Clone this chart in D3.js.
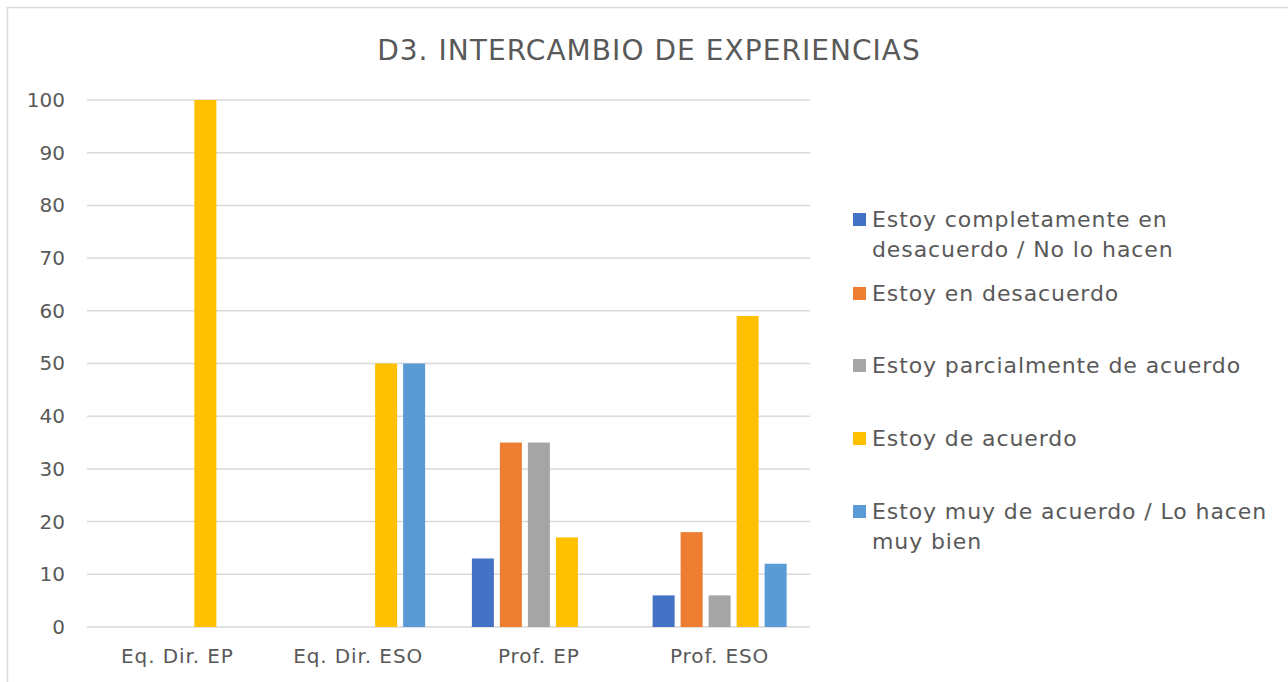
<!DOCTYPE html>
<html>
<head>
<meta charset="utf-8">
<script src="https://cdn.jsdelivr.net/npm/d3@7"></script>
<style>
	body { margin: 0; background: #fff; }
	svg { display: block; font-family: "DejaVu Sans", sans-serif; }
</style>
</head>
<body>
<svg id="chart" width="1288" height="682"></svg>
<script>
var categories = ["Eq. Dir. EP", "Eq. Dir. ESO", "Prof. EP", "Prof. ESO"];
var seriesNames = [
	"Estoy completamente en desacuerdo / No lo hacen",
	"Estoy en desacuerdo",
	"Estoy parcialmente de acuerdo",
	"Estoy de acuerdo",
	"Estoy muy de acuerdo / Lo hacen muy bien"
];
// one array per series, in category order
var completamenteDesacuerdo = [0, 0, 13, 6];
var enDesacuerdo = [0, 0, 35, 18];
var parcialmente = [0, 0, 35, 6];
var deAcuerdo = [100, 50, 17, 59];
var muyDeAcuerdo = [0, 50, 0, 12];
var yTicks = [0, 10, 20, 30, 40, 50, 60, 70, 80, 90, 100];
var colors = ["#4472C4", "#ED7D31", "#A5A5A5", "#FFC000", "#5B9BD5"];
// legend labels wrapped the way they appear
var legendLines = [
	["Estoy completamente en", "desacuerdo / No lo hacen"],
	["Estoy en desacuerdo"],
	["Estoy parcialmente de acuerdo"],
	["Estoy de acuerdo"],
	["Estoy muy de acuerdo / Lo hacen", "muy bien"]
];

var values = [completamenteDesacuerdo, enDesacuerdo, parcialmente, deAcuerdo, muyDeAcuerdo];

var svg = d3.select("#chart");
var textColor = "#595959";

// chart border (only top and left visible)
svg.append("rect")
	.attr("x", 7.5).attr("y", 7.5)
	.attr("width", 1300).attr("height", 700)
	.attr("fill", "none")
	.attr("stroke", "#D9D9D9")
	.attr("stroke-width", 1.5);

svg.append("text")
	.attr("x", 649).attr("y", 60)
	.attr("text-anchor", "middle")
	.attr("fill", textColor)
	.attr("font-size", 28)
	.attr("letter-spacing", 1.05)
	.text("D3. INTERCAMBIO DE EXPERIENCIAS");

var x0 = d3.scaleBand()
	.domain(categories)
	.range([87, 810])
	.padding(0);

var x1 = d3.scaleBand()
	.domain(d3.range(seriesNames.length))
	.range([0, x0.bandwidth()])
	.paddingInner(0.214)
	.paddingOuter(0.835);

var y = d3.scaleLinear()
	.domain([0, 100])
	.range([627, 100]);

// gridlines
svg.append("g")
	.selectAll("line")
	.data(yTicks)
	.enter().append("line")
	.attr("x1", 87).attr("x2", 810)
	.attr("y1", function(d) { return y(d); })
	.attr("y2", function(d) { return y(d); })
	.attr("stroke", "#D9D9D9")
	.attr("stroke-width", 1.5);

// y axis labels
var yAxis = svg.append("g")
	.attr("transform", "translate(65,0)")
	.call(d3.axisLeft(y).tickValues(yTicks).tickSize(0).tickPadding(0));
yAxis.select(".domain").remove();
yAxis.selectAll("text")
	.attr("fill", textColor)
	.attr("font-size", 20)
	.attr("font-family", "DejaVu Sans, sans-serif");

// x axis labels
var xAxis = svg.append("g")
	.attr("transform", "translate(0,627)")
	.call(d3.axisBottom(x0).tickSize(0).tickPadding(22));
xAxis.select(".domain").remove();
xAxis.selectAll("text")
	.attr("fill", textColor)
	.attr("font-size", 20)
	.attr("letter-spacing", 0.9)
	.attr("font-family", "DejaVu Sans, sans-serif");

// bars
var groups = svg.append("g")
	.selectAll("g")
	.data(categories)
	.enter().append("g")
	.attr("transform", function(d) { return "translate(" + x0(d) + ",0)"; });

groups.selectAll("rect")
	.data(function(d, ci) {
		return values.map(function(s, si) { return { series: si, value: s[ci] }; });
	})
	.enter().append("rect")
	.filter(function(d) { return d.value > 0; })
	.attr("x", function(d) { return x1(d.series); })
	.attr("width", x1.bandwidth())
	.attr("y", function(d) { return y(d.value); })
	.attr("height", function(d) { return y(0) - y(d.value); })
	.attr("fill", function(d) { return colors[d.series]; });

// legend
var legendY = [213, 287, 359, 432, 505];
var legend = svg.append("g")
	.selectAll("g")
	.data(seriesNames)
	.enter().append("g")
	.attr("transform", function(d, i) { return "translate(853," + legendY[i] + ")"; });

legend.append("rect")
	.attr("width", 13).attr("height", 13)
	.attr("fill", function(d, i) { return colors[i]; });

legend.append("text")
	.attr("x", 19)
	.attr("y", 14)
	.attr("fill", textColor)
	.attr("font-size", 22)
	.attr("letter-spacing", 0.9)
	.selectAll("tspan")
	.data(function(d, i) { return legendLines[i]; })
	.enter().append("tspan")
	.attr("x", 19)
	.attr("dy", function(d, i) { return i === 0 ? 0 : 30; })
	.text(function(d) { return d; });
</script>
</body>
</html>
